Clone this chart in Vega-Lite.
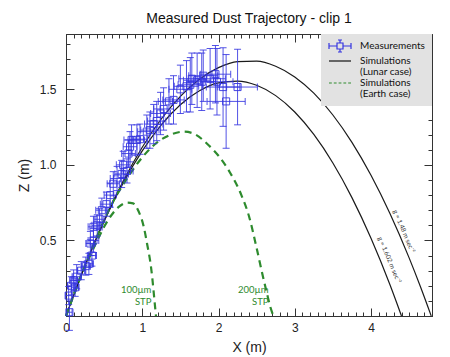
{
  "$schema": "https://vega.github.io/schema/vega-lite/v6.json",
  "width": 366,
  "height": 282,
  "autosize": {"type": "none"},
  "padding": {"left": 66, "top": 34, "right": 18, "bottom": 41},
  "background": "white",
  "config": {
    "view": {"stroke": "#333", "strokeWidth": 1},
    "axis": {"labelFont": "Liberation Sans", "labelFontSize": 12, "labelColor": "#222", "titleFont": "Liberation Sans", "titleFontSize": 14, "titleFontWeight": "normal", "titleColor": "#222", "domainColor": "#333", "tickColor": "#333", "grid": false, "labelOverlap": false, "labelFlush": false}
  },
  "title": {"text": "Measured Dust Trajectory - clip 1", "font": "Liberation Sans", "fontSize": 14, "fontWeight": "normal", "color": "#111", "anchor": "middle", "offset": 8},
  "datasets": {
    "lunar": [
      {"g": "1.48", "x": 0, "z": 0}, {"g": "1.48", "x": 0.25, "z": 0.3344}, {"g": "1.48", "x": 0.5, "z": 0.6319}, {"g": "1.48", "x": 0.75, "z": 0.8926}, {"g": "1.48", "x": 1.0, "z": 1.1164}, {"g": "1.48", "x": 1.25, "z": 1.3035}, {"g": "1.48", "x": 1.5, "z": 1.4537}, {"g": "1.48", "x": 1.75, "z": 1.5672}, {"g": "1.48", "x": 2.0, "z": 1.6437}, {"g": "1.48", "x": 2.25, "z": 1.6835}, {"g": "1.48", "x": 2.5, "z": 1.6864}, {"g": "1.48", "x": 2.75, "z": 1.6526}, {"g": "1.48", "x": 3.0, "z": 1.5819}, {"g": "1.48", "x": 3.25, "z": 1.4744}, {"g": "1.48", "x": 3.5, "z": 1.33}, {"g": "1.48", "x": 3.75, "z": 1.1489}, {"g": "1.48", "x": 4.0, "z": 0.9309}, {"g": "1.48", "x": 4.25, "z": 0.6761}, {"g": "1.48", "x": 4.5, "z": 0.3845}, {"g": "1.48", "x": 4.65, "z": 0.1919}, {"g": "1.48", "x": 4.79, "z": 0},
      {"g": "1.602", "x": 0, "z": 0}, {"g": "1.602", "x": 0.25, "z": 0.3334}, {"g": "1.602", "x": 0.5, "z": 0.6267}, {"g": "1.602", "x": 0.75, "z": 0.8797}, {"g": "1.602", "x": 1.0, "z": 1.0926}, {"g": "1.602", "x": 1.25, "z": 1.2654}, {"g": "1.602", "x": 1.5, "z": 1.3979}, {"g": "1.602", "x": 1.75, "z": 1.4903}, {"g": "1.602", "x": 2.0, "z": 1.5426}, {"g": "1.602", "x": 2.25, "z": 1.5546}, {"g": "1.602", "x": 2.5, "z": 1.5265}, {"g": "1.602", "x": 2.75, "z": 1.4582}, {"g": "1.602", "x": 3.0, "z": 1.3498}, {"g": "1.602", "x": 3.25, "z": 1.2011}, {"g": "1.602", "x": 3.5, "z": 1.0123}, {"g": "1.602", "x": 3.75, "z": 0.7834}, {"g": "1.602", "x": 4.0, "z": 0.5142}, {"g": "1.602", "x": 4.25, "z": 0.2049}, {"g": "1.602", "x": 4.4, "z": 0}
    ],
    "earth": [
      {"size": "100", "x": 0, "z": 0}, {"size": "100", "x": 0.1, "z": 0.14}, {"size": "100", "x": 0.2, "z": 0.27}, {"size": "100", "x": 0.3, "z": 0.38}, {"size": "100", "x": 0.4, "z": 0.49}, {"size": "100", "x": 0.5, "z": 0.59}, {"size": "100", "x": 0.6, "z": 0.67}, {"size": "100", "x": 0.7, "z": 0.725}, {"size": "100", "x": 0.8, "z": 0.75}, {"size": "100", "x": 0.88, "z": 0.745}, {"size": "100", "x": 0.95, "z": 0.695}, {"size": "100", "x": 1.02, "z": 0.59}, {"size": "100", "x": 1.07, "z": 0.46}, {"size": "100", "x": 1.105, "z": 0.36}, {"size": "100", "x": 1.13, "z": 0.26}, {"size": "100", "x": 1.155, "z": 0.13}, {"size": "100", "x": 1.18, "z": 0},
      {"size": "200", "x": 0, "z": 0}, {"size": "200", "x": 0.2, "z": 0.27}, {"size": "200", "x": 0.4, "z": 0.52}, {"size": "200", "x": 0.6, "z": 0.74}, {"size": "200", "x": 0.8, "z": 0.91}, {"size": "200", "x": 1.0, "z": 1.05}, {"size": "200", "x": 1.2, "z": 1.15}, {"size": "200", "x": 1.4, "z": 1.205}, {"size": "200", "x": 1.55, "z": 1.22}, {"size": "200", "x": 1.7, "z": 1.2}, {"size": "200", "x": 1.85, "z": 1.14}, {"size": "200", "x": 2.0, "z": 1.06}, {"size": "200", "x": 2.15, "z": 0.95}, {"size": "200", "x": 2.3, "z": 0.8}, {"size": "200", "x": 2.4, "z": 0.66}, {"size": "200", "x": 2.5, "z": 0.45}, {"size": "200", "x": 2.57, "z": 0.29}, {"size": "200", "x": 2.63, "z": 0.16}, {"size": "200", "x": 2.68, "z": 0.06}, {"size": "200", "x": 2.72, "z": 0}
    ],
    "meas": [
      {"x": 0.045, "z": 0.025, "xlo": 0.01, "xhi": 0.08, "zlo": -0.095, "zhi": 0.1},
      {"x": 0.035, "z": 0.135, "xlo": -0.005, "xhi": 0.075, "zlo": 0.075, "zhi": 0.195},
      {"x": 0.07, "z": 0.2, "xlo": 0.02, "xhi": 0.12, "zlo": 0.14, "zhi": 0.26},
      {"x": 0.1, "z": 0.235, "xlo": 0.05, "xhi": 0.15, "zlo": 0.165, "zhi": 0.305},
      {"x": 0.14, "z": 0.26, "xlo": 0.08, "xhi": 0.2, "zlo": 0.18, "zhi": 0.34},
      {"x": 0.12, "z": 0.19, "xlo": 0.07, "xhi": 0.17, "zlo": 0.13, "zhi": 0.25},
      {"x": 0.2, "z": 0.3, "xlo": 0.15, "xhi": 0.25, "zlo": 0.24, "zhi": 0.36},
      {"x": 0.26, "z": 0.33, "xlo": 0.2, "xhi": 0.32, "zlo": 0.27, "zhi": 0.39},
      {"x": 0.3, "z": 0.345, "xlo": 0.24, "xhi": 0.36, "zlo": 0.275, "zhi": 0.415},
      {"x": 0.34, "z": 0.4, "xlo": 0.28, "xhi": 0.4, "zlo": 0.33, "zhi": 0.47},
      {"x": 0.32, "z": 0.48, "xlo": 0.26, "xhi": 0.38, "zlo": 0.4, "zhi": 0.56},
      {"x": 0.36, "z": 0.5, "xlo": 0.29, "xhi": 0.43, "zlo": 0.42, "zhi": 0.58},
      {"x": 0.36, "z": 0.59, "xlo": 0.29, "xhi": 0.43, "zlo": 0.52, "zhi": 0.66},
      {"x": 0.41, "z": 0.6, "xlo": 0.34, "xhi": 0.48, "zlo": 0.53, "zhi": 0.67},
      {"x": 0.44, "z": 0.64, "xlo": 0.37, "xhi": 0.51, "zlo": 0.57, "zhi": 0.71},
      {"x": 0.47, "z": 0.7, "xlo": 0.39, "xhi": 0.55, "zlo": 0.62, "zhi": 0.78},
      {"x": 0.53, "z": 0.74, "xlo": 0.45, "xhi": 0.61, "zlo": 0.66, "zhi": 0.82},
      {"x": 0.58, "z": 0.8, "xlo": 0.5, "xhi": 0.66, "zlo": 0.72, "zhi": 0.88},
      {"x": 0.62, "z": 0.875, "xlo": 0.54, "xhi": 0.7, "zlo": 0.795, "zhi": 0.955},
      {"x": 0.67, "z": 0.91, "xlo": 0.58, "xhi": 0.76, "zlo": 0.83, "zhi": 0.99},
      {"x": 0.73, "z": 0.94, "xlo": 0.64, "xhi": 0.82, "zlo": 0.85, "zhi": 1.03},
      {"x": 0.75, "z": 1.0, "xlo": 0.66, "xhi": 0.84, "zlo": 0.91, "zhi": 1.09},
      {"x": 0.8, "z": 0.96, "xlo": 0.72, "xhi": 0.88, "zlo": 0.88, "zhi": 1.04},
      {"x": 0.82, "z": 1.075, "xlo": 0.73, "xhi": 0.91, "zlo": 0.985, "zhi": 1.165},
      {"x": 0.84, "z": 1.12, "xlo": 0.75, "xhi": 0.93, "zlo": 1.02, "zhi": 1.22},
      {"x": 0.86, "z": 1.165, "xlo": 0.76, "xhi": 0.96, "zlo": 1.065, "zhi": 1.265},
      {"x": 0.93, "z": 1.165, "xlo": 0.83, "xhi": 1.03, "zlo": 1.065, "zhi": 1.265},
      {"x": 0.97, "z": 1.17, "xlo": 0.87, "xhi": 1.07, "zlo": 1.07, "zhi": 1.27},
      {"x": 1.06, "z": 1.22, "xlo": 0.94, "xhi": 1.18, "zlo": 1.11, "zhi": 1.33},
      {"x": 1.1, "z": 1.23, "xlo": 0.98, "xhi": 1.22, "zlo": 1.11, "zhi": 1.35},
      {"x": 1.15, "z": 1.27, "xlo": 1.03, "xhi": 1.27, "zlo": 1.14, "zhi": 1.4},
      {"x": 1.19, "z": 1.29, "xlo": 1.07, "xhi": 1.31, "zlo": 1.16, "zhi": 1.42},
      {"x": 1.24, "z": 1.34, "xlo": 1.11, "xhi": 1.37, "zlo": 1.2, "zhi": 1.48},
      {"x": 1.28, "z": 1.37, "xlo": 1.15, "xhi": 1.41, "zlo": 1.23, "zhi": 1.51},
      {"x": 1.35, "z": 1.42, "xlo": 1.21, "xhi": 1.49, "zlo": 1.27, "zhi": 1.57},
      {"x": 1.41, "z": 1.43, "xlo": 1.27, "xhi": 1.55, "zlo": 1.27, "zhi": 1.59},
      {"x": 1.5, "z": 1.5, "xlo": 1.35, "xhi": 1.65, "zlo": 1.34, "zhi": 1.66},
      {"x": 1.58, "z": 1.52, "xlo": 1.42, "xhi": 1.74, "zlo": 1.35, "zhi": 1.69},
      {"x": 1.63, "z": 1.53, "xlo": 1.47, "xhi": 1.79, "zlo": 1.35, "zhi": 1.71},
      {"x": 1.65, "z": 1.57, "xlo": 1.48, "xhi": 1.82, "zlo": 1.4, "zhi": 1.74},
      {"x": 1.72, "z": 1.56, "xlo": 1.54, "xhi": 1.9, "zlo": 1.38, "zhi": 1.74},
      {"x": 1.78, "z": 1.55, "xlo": 1.6, "xhi": 1.96, "zlo": 1.36, "zhi": 1.74},
      {"x": 1.8, "z": 1.59, "xlo": 1.61, "xhi": 1.99, "zlo": 1.42, "zhi": 1.76},
      {"x": 1.89, "z": 1.57, "xlo": 1.69, "xhi": 2.09, "zlo": 1.37, "zhi": 1.77},
      {"x": 1.96, "z": 1.6, "xlo": 1.76, "xhi": 2.16, "zlo": 1.41, "zhi": 1.79},
      {"x": 1.98, "z": 1.55, "xlo": 1.77, "xhi": 2.19, "zlo": 1.33, "zhi": 1.77},
      {"x": 2.06, "z": 1.515, "xlo": 1.84, "xhi": 2.28, "zlo": 1.255, "zhi": 1.775},
      {"x": 2.1, "z": 1.42, "xlo": 1.85, "xhi": 2.35, "zlo": 1.11, "zhi": 1.73},
      {"x": 2.25, "z": 1.515, "xlo": 1.99, "xhi": 2.51, "zlo": 1.265, "zhi": 1.765}
    ],
    "glabels": [
      {"x": 4.43, "z": 0.56, "t": "g = 1.48 m sec⁻²"},
      {"x": 4.24, "z": 0.37, "t": "g = 1.602 m sec⁻²"}
    ],
    "elabels": [
      {"x": 1.12, "z": 0.169, "t": "100µm"},
      {"x": 1.12, "z": 0.091, "t": "STP"},
      {"x": 2.655, "z": 0.169, "t": "200µm"},
      {"x": 2.655, "z": 0.091, "t": "STP"}
    ],
    "legendrows": []
  },
  "resolve": {"axis": {"x": "independent", "y": "independent"}},
  "layer": [
    {
      "data": {"name": "lunar"},
      "mark": {"type": "line", "color": "#1a1a1a", "strokeWidth": 1.2, "interpolate": "monotone"},
      "encoding": {
        "x": {"field": "x", "type": "quantitative", "scale": {"domain": [0, 4.8], "nice": false, "zero": false},
          "axis": {"orient": "bottom", "title": "X (m)", "titlePadding": 3,
            "values": [0,0.1,0.2,0.3,0.4,0.5,0.6,0.7,0.8,0.9,1,1.1,1.2,1.3,1.4,1.5,1.6,1.7,1.8,1.9,2,2.1,2.2,2.3,2.4,2.5,2.6,2.7,2.8,2.9,3,3.1,3.2,3.3,3.4,3.5,3.6,3.7,3.8,3.9,4,4.1,4.2,4.3,4.4,4.5,4.6,4.7],
            "labelExpr": "abs(datum.value - round(datum.value)) < 0.001 ? format(datum.value, 'd') : ''",
            "tickSize": {"condition": {"test": "abs(datum.value - round(datum.value)) < 0.001", "value": -8}, "value": -4},
            "labelPadding": 14}},
        "y": {"field": "z", "type": "quantitative", "scale": {"domain": [0, 1.866], "nice": false, "zero": false},
          "axis": {"orient": "left", "title": "Z (m)", "titlePadding": 8,
            "values": [0,0.1,0.2,0.3,0.4,0.5,0.6,0.7,0.8,0.9,1,1.1,1.2,1.3,1.4,1.5,1.6,1.7,1.8],
            "labelExpr": "abs(datum.value*2 - round(datum.value*2)) < 0.001 && datum.value > 0 ? format(datum.value, '.1f') : ''",
            "tickSize": {"condition": {"test": "abs(datum.value*2 - round(datum.value*2)) < 0.001", "value": -8}, "value": -4},
            "labelPadding": 18}},
        "detail": {"field": "g", "type": "nominal"}
      }
    },
    {
      "data": {"name": "earth"},
      "mark": {"type": "line", "color": "#2e8b2e", "strokeWidth": 2.2, "strokeDash": [7, 5], "interpolate": "monotone"},
      "encoding": {
        "x": {"field": "x", "type": "quantitative", "scale": {"domain": [0, 4.8], "nice": false, "zero": false},
          "axis": {"orient": "top", "title": null, "labels": false,
            "values": [0,0.1,0.2,0.3,0.4,0.5,0.6,0.7,0.8,0.9,1,1.1,1.2,1.3,1.4,1.5,1.6,1.7,1.8,1.9,2,2.1,2.2,2.3,2.4,2.5,2.6,2.7,2.8,2.9,3,3.1,3.2,3.3,3.4,3.5,3.6,3.7,3.8,3.9,4,4.1,4.2,4.3,4.4,4.5,4.6,4.7],
            "tickSize": {"condition": {"test": "abs(datum.value - round(datum.value)) < 0.001", "value": -8}, "value": -4}}},
        "y": {"field": "z", "type": "quantitative", "scale": {"domain": [0, 1.866], "nice": false, "zero": false},
          "axis": {"orient": "right", "title": null, "labels": false,
            "values": [0,0.1,0.2,0.3,0.4,0.5,0.6,0.7,0.8,0.9,1,1.1,1.2,1.3,1.4,1.5,1.6,1.7,1.8],
            "tickSize": {"condition": {"test": "abs(datum.value*2 - round(datum.value*2)) < 0.001", "value": -8}, "value": -4}}},
        "detail": {"field": "size", "type": "nominal"}
      }
    },
    {
      "data": {"name": "meas"},
      "mark": {"type": "rule", "color": "#3535e0", "strokeWidth": 1, "opacity": 0.85},
      "encoding": {
        "x": {"field": "xlo", "type": "quantitative", "axis": null},
        "x2": {"field": "xhi"},
        "y": {"field": "z", "type": "quantitative", "axis": null}
      }
    },
    {
      "data": {"name": "meas"},
      "mark": {"type": "rule", "color": "#3535e0", "strokeWidth": 1, "opacity": 0.85},
      "encoding": {
        "x": {"field": "x", "type": "quantitative", "axis": null},
        "y": {"field": "zlo", "type": "quantitative", "axis": null},
        "y2": {"field": "zhi"}
      }
    },
    {
      "data": {"name": "meas"},
      "mark": {"type": "tick", "orient": "vertical", "color": "#3535e0", "thickness": 1, "size": 7, "opacity": 0.85},
      "encoding": {
        "x": {"field": "xlo", "type": "quantitative", "axis": null},
        "y": {"field": "z", "type": "quantitative", "axis": null}
      }
    },
    {
      "data": {"name": "meas"},
      "mark": {"type": "tick", "orient": "vertical", "color": "#3535e0", "thickness": 1, "size": 7, "opacity": 0.85},
      "encoding": {
        "x": {"field": "xhi", "type": "quantitative", "axis": null},
        "y": {"field": "z", "type": "quantitative", "axis": null}
      }
    },
    {
      "data": {"name": "meas"},
      "mark": {"type": "tick", "orient": "horizontal", "color": "#3535e0", "thickness": 1, "size": 7, "opacity": 0.85},
      "encoding": {
        "x": {"field": "x", "type": "quantitative", "axis": null},
        "y": {"field": "zlo", "type": "quantitative", "axis": null}
      }
    },
    {
      "data": {"name": "meas"},
      "mark": {"type": "tick", "orient": "horizontal", "color": "#3535e0", "thickness": 1, "size": 7, "opacity": 0.85},
      "encoding": {
        "x": {"field": "x", "type": "quantitative", "axis": null},
        "y": {"field": "zhi", "type": "quantitative", "axis": null}
      }
    },
    {
      "data": {"name": "meas"},
      "mark": {"type": "point", "shape": "square", "filled": false, "size": 50, "strokeWidth": 1, "opacity": 0.9, "color": "#3535e0"},
      "encoding": {
        "x": {"field": "x", "type": "quantitative", "axis": null},
        "y": {"field": "z", "type": "quantitative", "axis": null}
      }
    },
    {
      "data": {"name": "glabels"},
      "mark": {"type": "text", "angle": 67, "font": "Lato", "fontSize": 6.5, "color": "#333", "align": "center", "baseline": "middle"},
      "encoding": {
        "x": {"field": "x", "type": "quantitative", "axis": null},
        "y": {"field": "z", "type": "quantitative", "axis": null},
        "text": {"field": "t"}
      }
    },
    {
      "data": {"name": "elabels"},
      "mark": {"type": "text", "font": "Lato", "fontSize": 9.5, "color": "#2e8b2e", "align": "right", "baseline": "middle"},
      "encoding": {
        "x": {"field": "x", "type": "quantitative", "axis": null},
        "y": {"field": "z", "type": "quantitative", "axis": null},
        "text": {"field": "t"}
      }
    },
    {
      "data": {"name": "legendrows"},
      "mark": {"type": "point", "filled": false, "strokeWidth": 1.2},
      "encoding": {
        "color": {"field": "series", "type": "nominal",
          "scale": {"domain": ["Measurements", "Simulations", "(Lunar case)", "Simulations ", "(Earth case)"], "range": ["#3535e0", "#111111", "#e2e2e2", "#2e8b2e", "#e2e2e2"]},
          "legend": {"title": null, "orient": "top-right", "offset": 0, "padding": 7, "fillColor": "#e2e2e2",
            "labelFont": "Lato", "labelFontSize": 10, "labelColor": "#111", "labelOffset": 22, "rowPadding": 1,
            "symbolSize": 64, "symbolStrokeWidth": 1.2, "symbolOpacity": 1,
            "encode": {"labels": {"fontSize": {"signal": "slice(datum.value, 0, 1) === '(' ? 7.5 : 10"}, "dy": {"signal": "slice(datum.value, 0, 1) === '(' ? -2 : 0"}}}}
        },
        "shape": {"field": "series", "type": "nominal",
          "scale": {"domain": ["Measurements", "Simulations", "(Lunar case)", "Simulations ", "(Earth case)"],
            "range": ["M1,-0.75H2.5V0.75H1Z M-1,0H1 M2.5,0H4.5 M1.75,-1.5V-0.75 M1.75,0.75V1.5 M-1,-0.75V0.75 M4.5,-0.75V0.75 M1.25,-1.5H2.25 M1.25,1.5H2.25", "M-1,0H4.5", "M0,0", "M-1,0H-0.3M0.2,0H0.9M1.4,0H2.1M2.6,0H3.3M3.8,0H4.5", "M0,0"]},
          "legend": {"title": null, "orient": "top-right", "offset": 0, "padding": 7, "fillColor": "#e2e2e2",
            "labelFont": "Lato", "labelFontSize": 10, "labelColor": "#111", "labelOffset": 22, "rowPadding": 1,
            "symbolSize": 64, "symbolStrokeWidth": 1.2, "symbolOpacity": 1,
            "encode": {"labels": {"fontSize": {"signal": "slice(datum.value, 0, 1) === '(' ? 7.5 : 10"}, "dy": {"signal": "slice(datum.value, 0, 1) === '(' ? -2 : 0"}}}}
        }
      }
    }
  ]
}
